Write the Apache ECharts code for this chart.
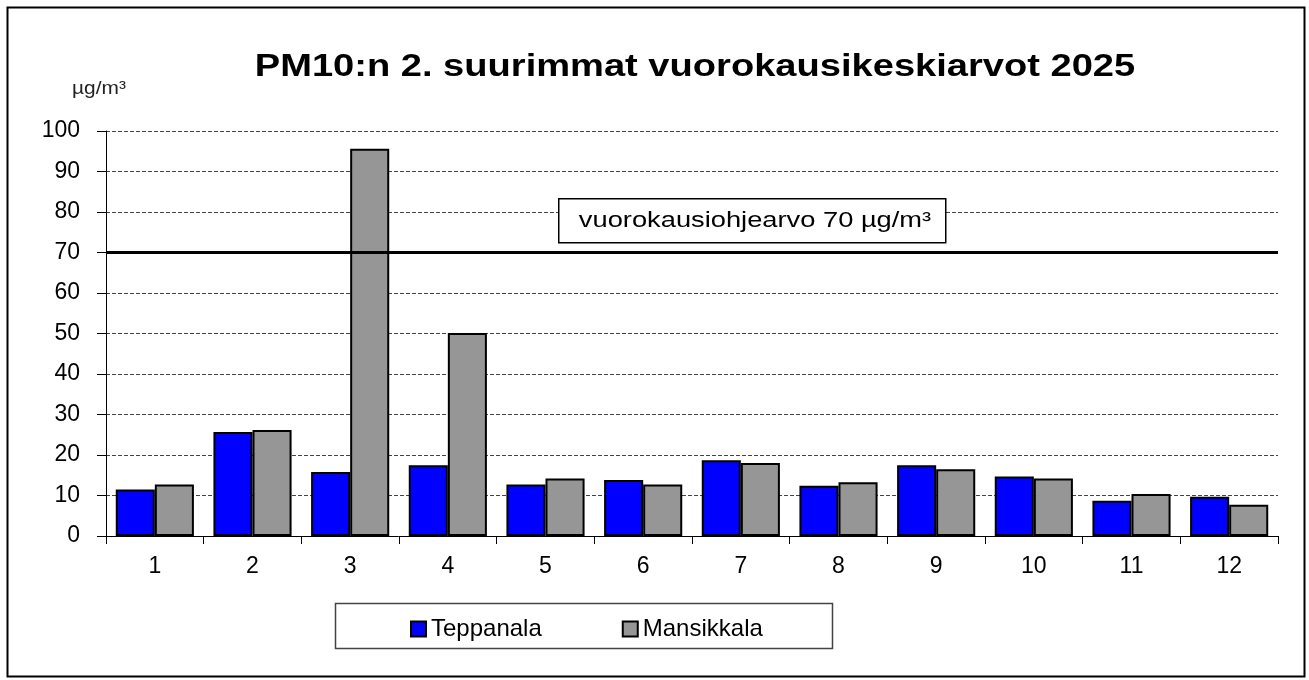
<!DOCTYPE html>
<html>
<head>
<meta charset="utf-8">
<script src="https://cdn.jsdelivr.net/npm/echarts@6/dist/echarts.min.js"></script>
<style>
  html, body { margin: 0; padding: 0; background: #fff; }
  #chart { width: 1309px; height: 680px; }
</style>
</head>
<body>
<div id="chart"></div>
<script>
var months = ['1', '2', '3', '4', '5', '6', '7', '8', '9', '10', '11', '12'];
var teppanala = [11.5, 25.7, 15.8, 17.5, 12.7, 13.8, 18.7, 12.4, 17.5, 14.7, 8.7, 9.7];
var mansikkala = [12.7, 26.2, 95.6, 50.1, 14.2, 12.7, 18.0, 13.3, 16.5, 14.2, 10.4, 7.7];
var limitValue = 70;
var font = '"Liberation Sans", Arial, sans-serif';

var myChart = echarts.init(document.getElementById('chart'));

var barStyle = function(color) {
  return { color: color, borderColor: '#000', borderWidth: 2 };
};

var option = {
  backgroundColor: '#fff',
  animation: false,
  legend: {
    left: 405,
    top: 612,
    itemGap: 80,
    itemWidth: 15,
    itemHeight: 15,
    icon: 'rect',
    textStyle: { fontFamily: font, fontSize: 24, color: '#000' },
    data: ['Teppanala', 'Mansikkala']
  },
  grid: { left: 106, right: 31, top: 131, bottom: 144 },
  xAxis: {
    type: 'category',
    data: months,
    axisLine: { lineStyle: { color: '#000', width: 1 } },
    axisTick: { show: true, length: 8, lineStyle: { color: '#000' } },
    axisLabel: { fontFamily: font, fontSize: 23, color: '#000', margin: 19 }
  },
  yAxis: {
    type: 'value',
    min: 0,
    max: 100,
    interval: 10,
    axisLine: { show: true, lineStyle: { color: '#000', width: 1 } },
    axisTick: { show: true, length: 9, lineStyle: { color: '#000' } },
    axisLabel: { fontFamily: font, fontSize: 23, color: '#000', margin: 26 },
    splitLine: { lineStyle: { color: '#444', type: [4, 2], width: 1 } }
  },
  series: [
    {
      name: 'Teppanala',
      type: 'bar',
      barGap: '0%',
      barCategoryGap: '20%',
      itemStyle: barStyle('#0000ff'),
      data: teppanala,
      markLine: {
        symbol: 'none',
        silent: true,
        label: { show: false },
        lineStyle: { color: '#000', width: 3, type: 'solid' },
        data: [{ yAxis: limitValue }]
      },
      z: 2
    },
    {
      name: 'Mansikkala',
      type: 'bar',
      barGap: '0%',
      barCategoryGap: '20%',
      itemStyle: barStyle('#969696'),
      data: mansikkala,
      z: 3
    }
  ],
  graphic: [
    {
      type: 'rect',
      left: 5, top: 5,
      shape: { width: 1297, height: 669 },
      style: { fill: 'none', stroke: '#000', lineWidth: 2 },
      z: 100
    },
    {
      // title, widened like the original
      type: 'text',
      x: 695, y: 67,
      scaleX: 1.19,
      style: {
        text: 'PM10:n 2. suurimmat vuorokausikeskiarvot 2025',
        font: 'bold 32px ' + font, fill: '#000',
        align: 'center', verticalAlign: 'middle'
      }
    },
    {
      type: 'text',
      x: 99, y: 89,
      scaleX: 1.1,
      style: { text: 'µg/m³', font: '19px ' + font, fill: '#222', align: 'center', verticalAlign: 'middle' }
    },
    {
      type: 'rect',
      left: 558, top: 198,
      shape: { width: 387, height: 44 },
      style: { fill: '#fff', stroke: '#000', lineWidth: 1.5 },
      z: 50
    },
    {
      type: 'text',
      x: 755, y: 221,
      scaleX: 1.24,
      style: {
        text: 'vuorokausiohjearvo ' + limitValue + ' µg/m³',
        font: '22px ' + font, fill: '#000',
        align: 'center', verticalAlign: 'middle'
      },
      z: 51
    },
    {
      type: 'rect',
      left: 333, top: 601,
      shape: { width: 497, height: 45 },
      style: { fill: 'none', stroke: '#444', lineWidth: 1.5 },
      z: 50
    }
  ]
};

myChart.setOption(option);
</script>
</body>
</html>
